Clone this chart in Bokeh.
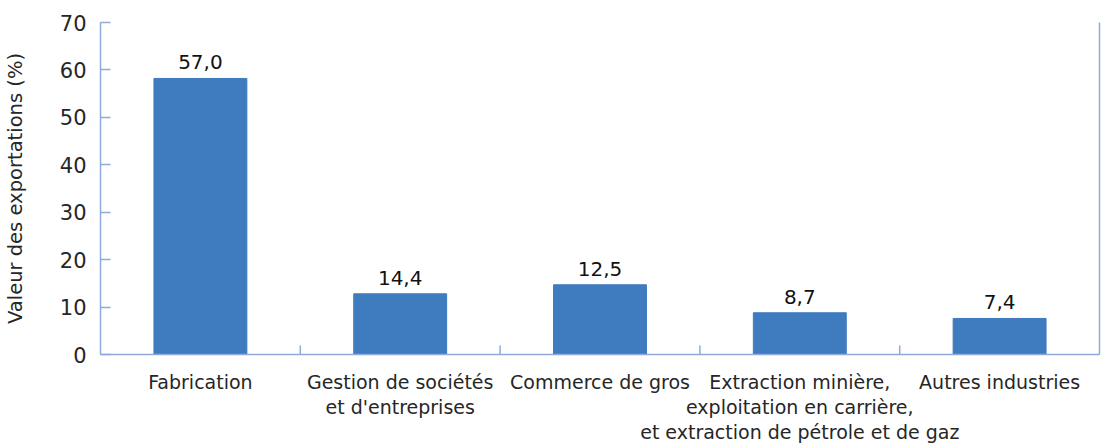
from bokeh.plotting import figure
from bokeh.models import ColumnDataSource, FactorRange, Range1d, LinearAxis, FixedTicker, LabelSet
from bokeh.core.properties import value
from bokeh.embed import file_html
from bokeh.resources import INLINE

categories = ["Fabrication", "Gestion de sociétés\net d'entreprises", "Commerce de gros",
              "Extraction minière,\nexploitation en carrière,\net extraction de pétrole et de gaz",
              "Autres industries"]
bar_values = [58.2, 12.8, 14.7, 8.8, 7.6]
label_texts = ["57,0", "14,4", "12,5", "8,7", "7,4"]
y_ticks = [0, 10, 20, 30, 40, 50, 60, 70]

FONT = "DejaVu Sans"
AXIS_COLOR = "#8DAADB"
BAR_COLOR = "#3F7BBF"
TEXT_COLOR = "#262626"

src = ColumnDataSource(dict(x=categories, top=bar_values, lab=label_texts))

W, H = 1106, 446
p = figure(x_range=FactorRange(*categories), y_range=Range1d(0, 70),
           width=W, height=H, output_backend="svg", toolbar_location=None,
           min_border_left=100, min_border_right=W - 1099, min_border_top=22,
           min_border_bottom=H - 355)
p.outline_line_color = None
p.grid.grid_line_color = None
p.background_fill_color = "white"

p.vbar(x="x", top="top", width=0.465, source=src, color=BAR_COLOR)

labels = LabelSet(x="x", y="top", text="lab", source=src, text_align="center",
                  text_baseline="bottom", y_offset=9, text_font=value(FONT),
                  text_font_size="20px", text_color="#111111")
p.add_layout(labels)

# separator ticks between categories
n = len(categories)
seps = list(range(1, n))
p.segment(x0=seps, y0=[0] * len(seps), x1=seps, y1=[1.9] * len(seps),
          line_color=AXIS_COLOR, line_width=1.5)

yax = p.yaxis[0]
yax.ticker = FixedTicker(ticks=y_ticks)
yax.major_tick_in = 10
yax.major_tick_out = 0
yax.minor_tick_line_color = None
yax.axis_line_color = AXIS_COLOR
yax.major_tick_line_color = AXIS_COLOR
yax.axis_line_width = 1.5
yax.major_tick_line_width = 1.5
yax.major_label_text_font = FONT
yax.major_label_text_font_size = "21px"
yax.major_label_text_color = TEXT_COLOR
yax.major_label_standoff = 14
yax.axis_label = "Valeur des exportations (%)"
yax.axis_label_text_font = FONT
yax.axis_label_text_font_size = "19.5px"
yax.axis_label_text_font_style = "normal"
yax.axis_label_text_color = TEXT_COLOR
yax.axis_label_standoff = 30

xax = p.xaxis[0]
xax.major_tick_line_color = None
xax.minor_tick_line_color = None
xax.axis_line_color = AXIS_COLOR
xax.axis_line_width = 1.5
xax.major_label_text_font = FONT
xax.major_label_text_font_size = "19px"
xax.major_label_text_color = TEXT_COLOR
xax.major_label_text_line_height = 1.15
xax.major_label_standoff = 10
xax.major_label_orientation = "horizontal"

rax = LinearAxis(ticker=FixedTicker(ticks=[]), axis_line_color=AXIS_COLOR, axis_line_width=1.5,
                 major_label_text_font_size="0px", major_tick_line_color=None,
                 minor_tick_line_color=None)
p.add_layout(rax, "right")

open("out.html", "w").write(file_html(p, INLINE))
